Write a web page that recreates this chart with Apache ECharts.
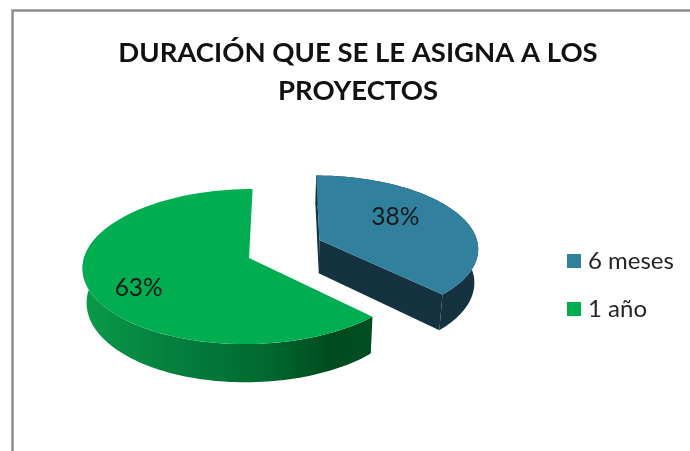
<!DOCTYPE html>
<html>
<head>
<meta charset="utf-8">
<style>html,body{margin:0;padding:0;background:#fff}#c{width:690px;height:451px}</style>
<script src="https://cdn.jsdelivr.net/npm/echarts@6/dist/echarts.min.js"></script>
</head>
<body>
<div id="c"></div>
<script>
// Data
const categories = ['6 meses', '1 año'];
const shares = [37.5, 62.5];
const titleLines = ['DURACIÓN QUE SE LE ASIGNA A LOS', 'PROYECTOS'];

// Styles
const topColors = ['#31819e', '#00ad50'];
const FONT = 'Lato';

// Projection of the tilted pie plane (unit = pie radius)
const P = { x0: 285, y0: 258, sx: 165, sy: 76.6, q: 0.11, depth: 34, shrink: 0.98 };
const pieCentres = [[0.214, -0.241], [-0.218, 0]];
const pieRadii = [0.98, 1];
const labelPolar = [[56.6, 0.594], [239, 0.737]];
const GREEN_WALL_LIMIT = 290;

function project(X, Y) {
  const k = 1 / (1 - P.q * Y);
  return [P.x0 + P.sx * X * k, P.y0 + P.sy * Y * k, k];
}
function lower(pt) {
  return [P.x0 + (pt[0] - P.x0) * P.shrink, pt[1] + P.depth * pt[2]];
}
function onRim(c, deg, r) {
  const a = deg * Math.PI / 180;
  return project(c[0] + r * Math.sin(a), c[1] - r * Math.cos(a));
}
const total = shares.reduce((a, b) => a + b, 0);

function renderSlice(idx) {
  return function (params, api) {
    const value = api.value(0);
    const before = shares.slice(0, idx).reduce((a, b) => a + b, 0);
    const start = before / total * 360;
    const end = start + value / total * 360;
    const c = pieCentres[idx];
    const r = pieRadii[idx];
    const apex = project(c[0], c[1]);
    const arc = [];
    const n = 90;
    for (let i = 0; i <= n; i++) arc.push(onRim(c, start + (end - start) * i / n, r));
    const children = [];
    if (idx === 0) {
      const wall = arc.map(p => [p[0], p[1]]).concat(arc.map(lower).reverse());
      children.push({ type: 'polygon', shape: { points: wall }, style: { fill: '#14323f' } });
      const first = arc[0], last = arc[n];
      children.push({ type: 'polygon',
        shape: { points: [[first[0], first[1]], [apex[0], apex[1]], lower(apex), lower(first)] },
        style: { fill: '#14323f' } });
      children.push({ type: 'polygon',
        shape: { points: [[apex[0], apex[1]], [last[0], last[1]], lower(last), lower(apex)] },
        style: { fill: '#14323f' } });
    } else {
      const front = [];
      for (let i = 0; i <= n; i++) {
        const d = start + (GREEN_WALL_LIMIT - start) * i / n;
        front.push(onRim(c, d, r));
      }
      const wall = front.map(p => [p[0], p[1]]).concat(front.map(lower).reverse());
      children.push({ type: 'polygon', shape: { points: wall }, style: {
        fill: new echarts.graphic.LinearGradient(0, 0, 1, 0, [
          { offset: 0, color: '#0a9a4a' },
          { offset: 0.28, color: '#05823f' },
          { offset: 0.62, color: '#006a2f' },
          { offset: 0.87, color: '#004a1e' },
          { offset: 1, color: '#004f20' }
        ])
      } });
    }
    children.push({ type: 'polygon',
      shape: { points: [[apex[0], apex[1]]].concat(arc.map(p => [p[0], p[1]])) },
      style: { fill: topColors[idx] } });
    const lp = onRim(c, labelPolar[idx][0], labelPolar[idx][1]);
    children.push({ type: 'text', x: lp[0], y: lp[1], style: {
      text: Math.round(value / total * 100) + '%',
      fill: '#1a1a1a', font: '24.5px ' + FONT, textAlign: 'center', textVerticalAlign: 'middle'
    } });
    return { type: 'group', children: children };
  };
}

const chart = echarts.init(document.getElementById('c'), null, { renderer: 'canvas' });
chart.setOption({
  animation: false,
  backgroundColor: '#fff',
  title: {
    text: titleLines.join('\n'),
    left: 353, top: 29, textAlign: 'center',
    textStyle: { fontFamily: FONT, fontWeight: 'bold', fontSize: 27.5, lineHeight: 38, color: '#111' }
  },
  legend: {
    orient: 'vertical', left: 562, top: 244, selectedMode: false,
    itemWidth: 14, itemHeight: 14, itemGap: 24,
    icon: 'rect',
    data: categories,
    textStyle: { fontFamily: FONT, fontSize: 24, color: '#262626', padding: [0, 0, 0, 2] }
  },
  graphic: [
    { type: 'polyline', silent: true, z: 0,
      shape: { points: [[12.5, 451], [12.5, 10.5], [690, 10.5]] },
      style: { stroke: '#8e8e8e', lineWidth: 2.5, fill: null } }
  ],
  series: categories.map((name, i) => ({
    type: 'custom', name: name, coordinateSystem: 'none', silent: true,
    itemStyle: { color: topColors[i] },
    renderItem: renderSlice(i),
    data: [[shares[i]]]
  }))
});
</script>
</body>
</html>
